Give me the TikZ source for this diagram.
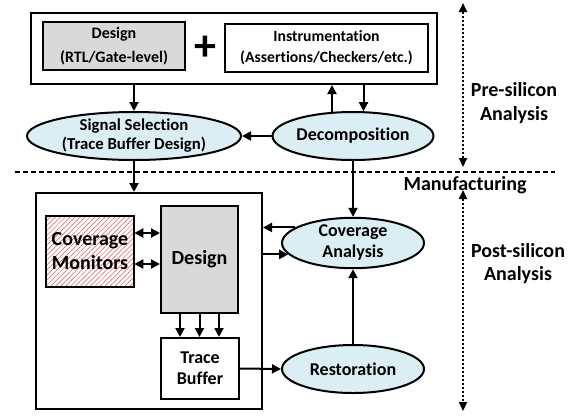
\documentclass[tikz,border=0pt]{standalone}
\usepackage{fontspec}
\setmainfont[Ligatures=NoCommon]{Carlito}
\usetikzlibrary{arrows.meta,shapes.geometric,patterns.meta,calc}
\definecolor{ovalblue}{HTML}{DAEEF3}
\definecolor{designgray}{HTML}{D9D9D9}
\definecolor{hatchred}{HTML}{D9534F}
\begin{document}
\begin{tikzpicture}[x=1pt,y=-1pt,
  line width=2pt,
  tip/.tip={Triangle[length=9pt,width=9pt]},
  arr/.style={-tip},
  dbl/.style={tip-tip},
  lbl/.style={font=\bfseries\fontsize{16}{21}\selectfont,align=center},
  box/.style={draw,rectangle,inner sep=0pt,lbl},
  oval/.style={draw,ellipse,fill=ovalblue,inner sep=0pt,lbl},
  dots/.style={line width=2pt,dash pattern=on 2.2pt off 1.8pt,{Triangle[length=9pt,width=8pt]}-{Triangle[length=9pt,width=8pt]}},
  side/.style={font=\bfseries\fontsize{20}{24}\selectfont,align=center}]
\useasboundingbox (0,0) rectangle (580,416);

% pre-silicon block
\node[box,minimum width=406pt,minimum height=71pt] (topbox) at (234,48.5) {};
\node[box,fill=designgray,minimum width=142pt,minimum height=48pt,
      font=\bfseries\fontsize{16}{24}\selectfont] (design1) at (114,46) {Design\\(RTL/Gate-level)};
\node[font=\bfseries\fontsize{44}{44}\selectfont,inner sep=0pt] (plus) at (205,48) {+};
\node[box,minimum width=203pt,minimum height=48pt,
      font=\bfseries\fontsize{15.7}{21}\selectfont] (instr) at (326.5,48) {Instrumentation\\(Assertions/Checkers/etc.)};

\node[oval,minimum width=214pt,minimum height=48pt,font=\bfseries\fontsize{16.7}{19}\selectfont] (sigsel) at (134,136) {Signal Selection\\(Trace Buffer Design)};
\node[oval,minimum width=161pt,minimum height=48pt,font=\bfseries\fontsize{18}{22}\selectfont] (decomp) at (353,136) {Decomposition};

% post-silicon block
\node[box,minimum width=226pt,minimum height=216pt] (lowbox) at (149,301) {};
\node[box,minimum width=88pt,minimum height=71pt,
      pattern={Lines[angle=45,distance=3.5pt,line width=0.5pt]},pattern color=hatchred,
      font=\bfseries\fontsize{20}{24}\selectfont] (covmon) at (90,251.5) {Coverage\\Monitors};
\node[box,fill=designgray,minimum width=77pt,minimum height=107pt,
      font=\bfseries\fontsize{20}{24}\selectfont] (design2) at (199.5,259.5) {Design};
\node[box,minimum width=78pt,minimum height=61pt,
      font=\bfseries\fontsize{18}{21}\selectfont] (tbuf) at (200,368.5) {Trace\\Buffer};

\node[oval,minimum width=142pt,minimum height=48pt,font=\bfseries\fontsize{18}{21}\selectfont] (covan) at (353,243) {Coverage\\Analysis};
\node[oval,minimum width=142pt,minimum height=48pt,font=\bfseries\fontsize{18}{21}\selectfont] (restor) at (353,369) {Restoration};

% connectors, pre-silicon
\draw[arr] (topbox.south -| sigsel.north) -- (sigsel.north);
\draw[arr] (decomp.131) -- (decomp.131 |- topbox.south);
\draw[arr] (decomp.67 |- topbox.south) -- (decomp.67);
\draw[arr] (decomp.west) -- (sigsel.east);
\draw[arr] (sigsel.south) -- (sigsel.south |- lowbox.north);
\draw[arr] (decomp.south) -- (covan.north);

% connectors, post-silicon
\draw[dbl] ([yshift=18.5pt]covmon.east) -- ([yshift=18.5pt]covmon.east -| design2.west);
\draw[dbl] ([yshift=-12.5pt]covmon.east) -- ([yshift=-12.5pt]covmon.east -| design2.west);
\foreach \dx in {-19.5,0,19.5}
  \draw[arr] ([xshift=\dx pt]design2.south) -- ([xshift=\dx pt]design2.south |- tbuf.north);
\draw[arr] (tbuf.east) -- (restor.west);
\draw[arr] (restor.north) -- (covan.south);
\draw[arr] (covan.165) -- (covan.165 -| lowbox.east);
\draw[arr] (covan.190 -| lowbox.east) -- (covan.190);

% phase separator and phase labels
\coordinate (sepL) at (15,172);
\coordinate (sepR) at (555,172);
\draw[line width=1.5pt,dash pattern=on 5pt off 3pt] (sepL) -- (sepR);
\node[side] (manuf) at (465,185) {Manufacturing};

\coordinate (preT) at (463,3);
\coordinate (preB) at (463,167);
\coordinate (postT) at (463,190);
\coordinate (postB) at (463,411);
\draw[dots] (preT) -- (preB);
\draw[dots] (postT) -- (postB);
\node[side] (prelbl) at (514,103) {Pre-silicon\\Analysis};
\node[side,font=\bfseries\fontsize{20}{23}\selectfont] (postlbl) at (518,264) {Post-silicon\\Analysis};
\end{tikzpicture}
\end{document}
